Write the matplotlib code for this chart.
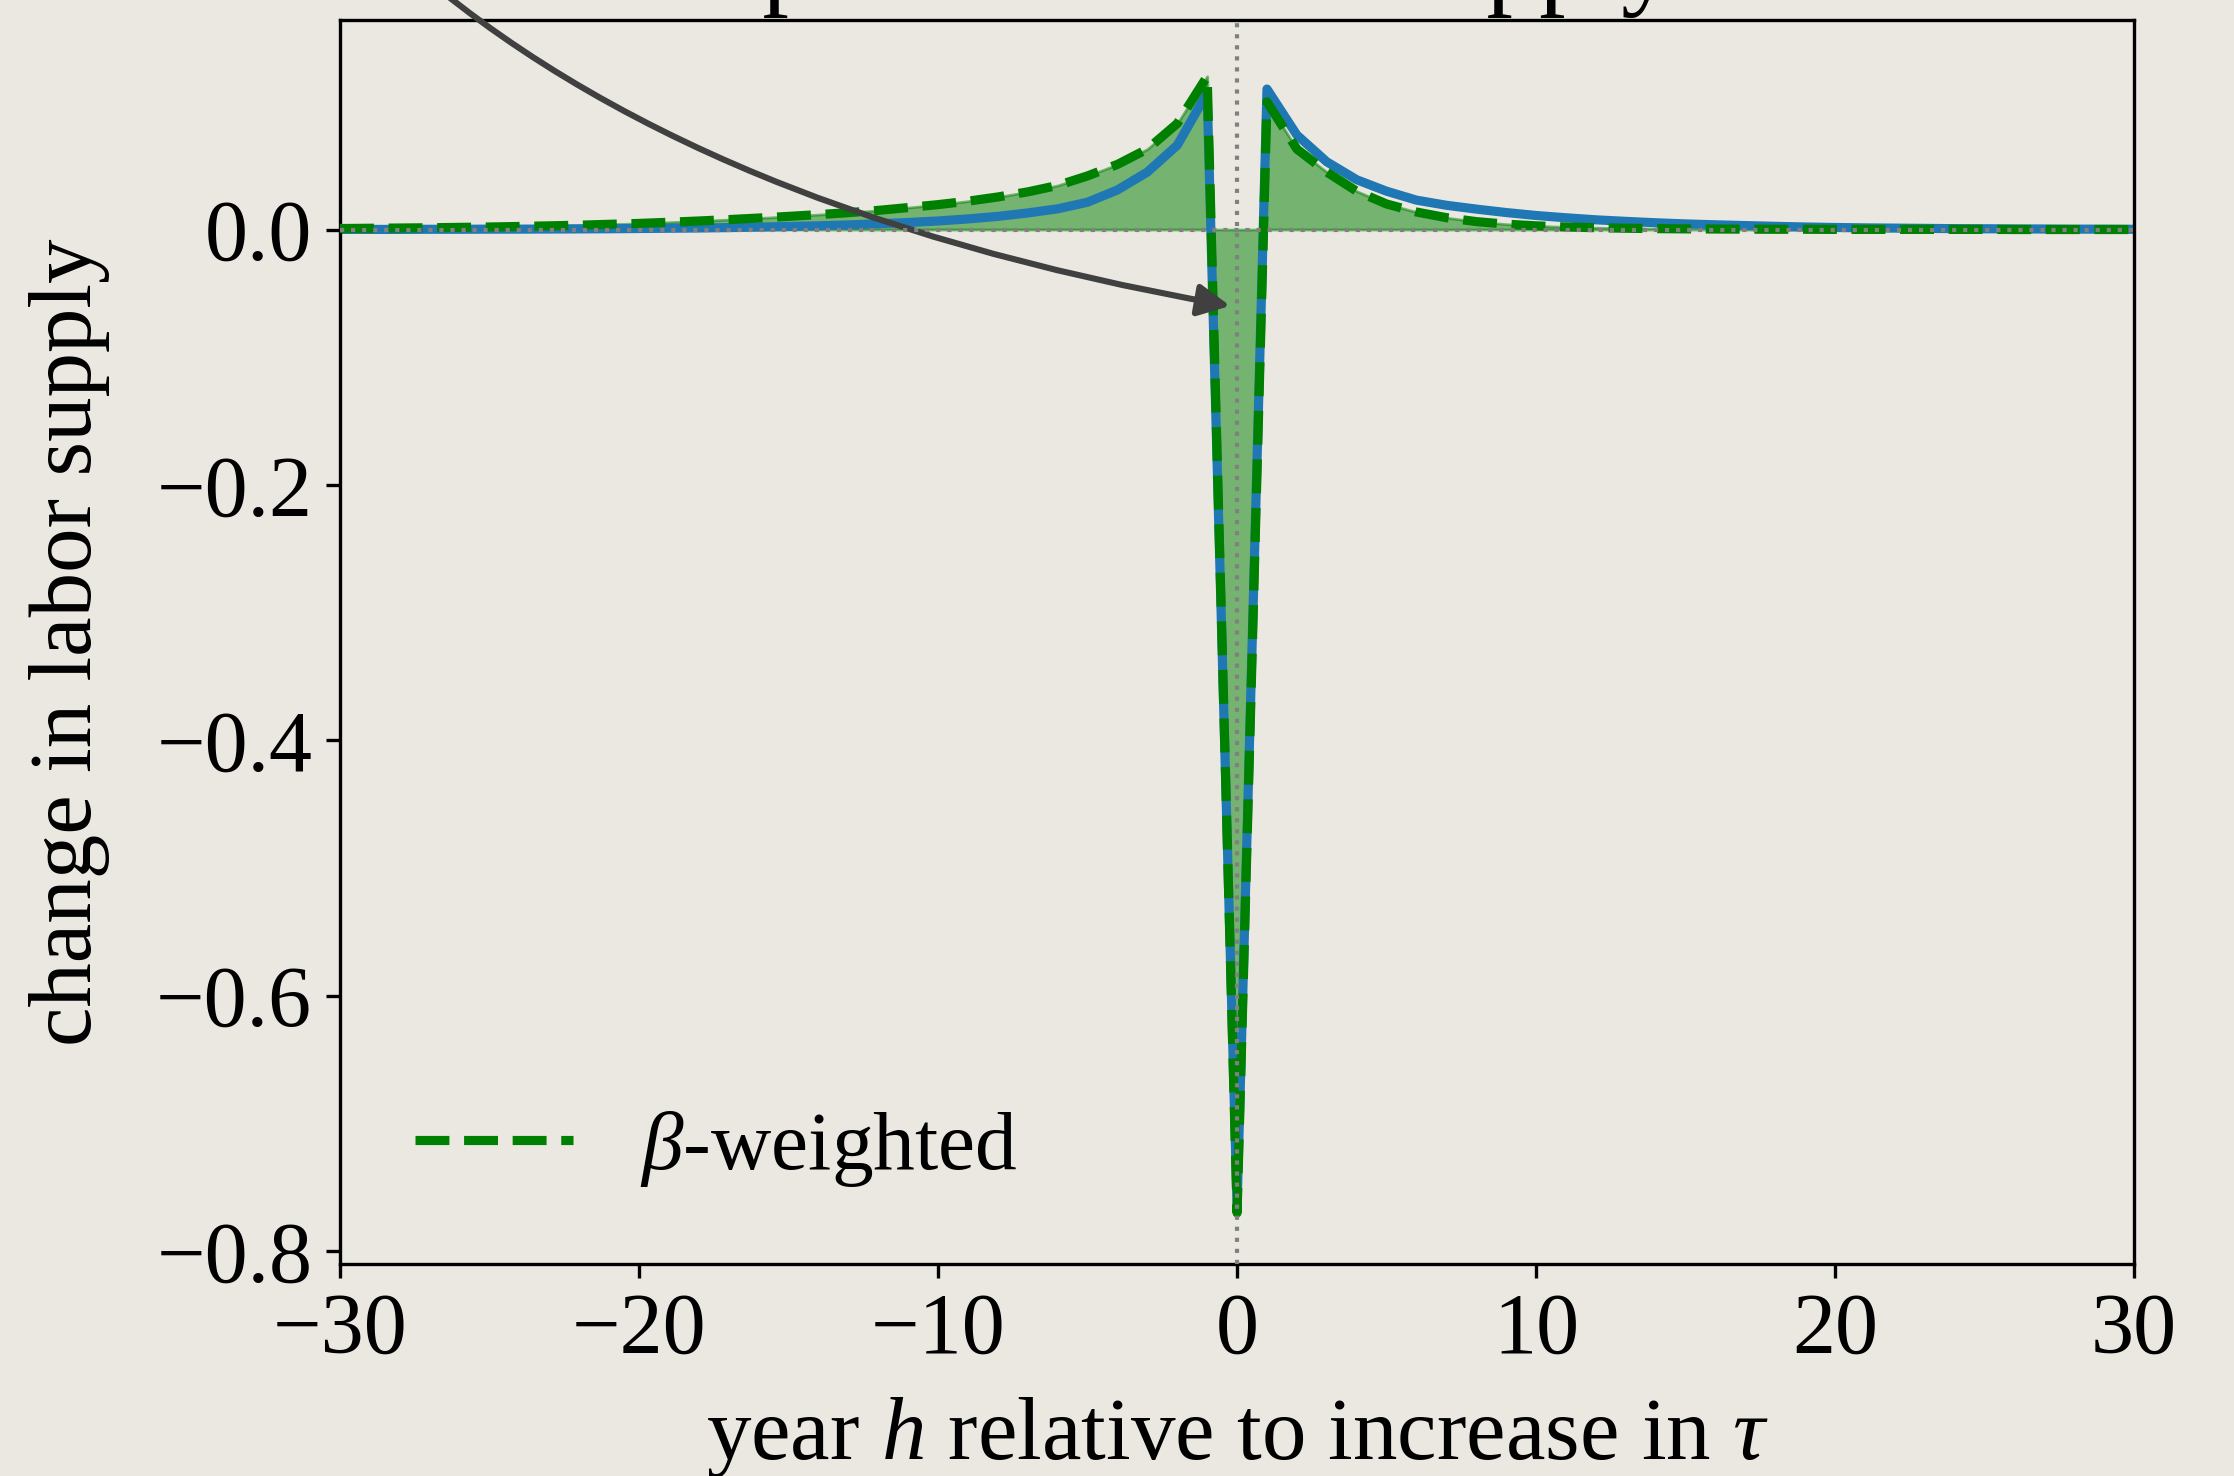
import matplotlib
matplotlib.use("Agg")
import matplotlib.pyplot as plt
import numpy as np

# --- data ---
years = np.arange(-30, 31)

# solid blue line (unweighted response)
baseline = [
    0.0001, 0.0001, 0.0001, 0.0002, 0.0002, 0.0003, 0.0003, 0.0004, 0.0005, 0.0006,
    0.0008, 0.0010, 0.0012, 0.0015, 0.0019, 0.0024, 0.0029, 0.0036, 0.0045, 0.0055,
    0.0067, 0.0083, 0.0103, 0.0130, 0.0162, 0.0214, 0.0310, 0.0450, 0.0660, 0.1070,
    -0.765,
    0.110, 0.074, 0.053, 0.039, 0.030, 0.023, 0.0190, 0.0160, 0.0133, 0.0110,
    0.0092, 0.0076, 0.0064, 0.0053, 0.0044, 0.0037, 0.0031, 0.0025, 0.0020, 0.0016,
    0.0013, 0.0011, 0.0009, 0.0007, 0.0006, 0.0005, 0.0004, 0.0003, 0.0003, 0.0002,
]

# dashed green line (beta-weighted response)
beta_weighted = [
    0.0008, 0.0010, 0.0012, 0.0014, 0.0017, 0.0020, 0.0024, 0.0029, 0.0034, 0.0041,
    0.0048, 0.0057, 0.0067, 0.0078, 0.0090, 0.0103, 0.0117, 0.0132, 0.0150, 0.0172,
    0.0195, 0.0222, 0.0255, 0.0295, 0.0345, 0.0420, 0.0510, 0.0630, 0.0830, 0.1200,
    -0.770,
    0.100, 0.063, 0.045, 0.030, 0.020, 0.0137, 0.0093, 0.0062, 0.0042, 0.0029,
    0.0020, 0.0014, 0.0010, 0.0007, 0.0005, 0.0004, 0.0003, 0.0002, 0.0002, 0.0001,
    0.0001, 0.0001, 0.0001, 0.0001, 0.0001, 0.0, 0.0, 0.0, 0.0, 0.0,
]

x_ticks = [-30, -20, -10, 0, 10, 20, 30]
y_ticks = [0.0, -0.2, -0.4, -0.6, -0.8]

title_text = "Response of labor supply"
legend_label = r"$\beta$-weighted"
x_label = r"year $h$ relative to increase in $\tau$"
y_label = "change in labor supply"

# --- style ---
BG = "#EBE8E2"
plt.rcParams["font.family"] = "serif"
plt.rcParams["font.serif"] = ["Liberation Serif", "DejaVu Serif"]
plt.rcParams["mathtext.fontset"] = "custom"
plt.rcParams["mathtext.rm"] = "Liberation Serif"
plt.rcParams["mathtext.it"] = "Liberation Serif:italic"
plt.rcParams["font.size"] = 31

fig = plt.figure(figsize=(11.17, 7.38), dpi=200, facecolor=BG)
ax = fig.add_axes([0.1522, 0.1436, 0.8031, 0.8428])
ax.set_facecolor("none")

# fill + lines
ax.fill_between(years, beta_weighted, 0, color="green", alpha=0.5, zorder=1)
ax.plot(years, baseline, color="tab:blue", lw=3.3, zorder=2)
ax.plot(years, beta_weighted, color="green", lw=3.3, ls="--", label=legend_label, zorder=3)
ax.axhline(0, color="gray", lw=1.5, ls=":", zorder=4)
ax.axvline(0, color="gray", lw=1.5, ls=":", zorder=4)

ax.set_xlim(-30, 30)
ax.set_ylim(-0.81, 0.164)
ax.set_xticks(x_ticks)
ax.set_yticks(y_ticks)
ax.tick_params(length=5, width=1.2, pad=5, labelsize=31)
for s in ax.spines.values():
    s.set_linewidth(1.2)

ax.set_xlabel(x_label, fontsize=32)
ax.xaxis.set_label_coords(0.5, -0.105)
ax.set_ylabel(y_label, fontsize=32)
ax.yaxis.set_label_coords(-0.128, 0.5)

ax.legend(loc="lower left", frameon=False, fontsize=30, handlelength=1.9)

# curved arrow coming in from the title area
ax.annotate("", xy=(-0.23, -0.0598), xytext=(-28.5, 0.225),
            annotation_clip=False,
            arrowprops=dict(arrowstyle="-|>", color="#404040", lw=2.2,
                            mutation_scale=24, shrinkA=0, shrinkB=0,
                            connectionstyle="angle3,angleA=-43,angleB=-10",
                            clip_on=False))

# title sits mostly above the canvas, only descenders show
fig.text(0.51, 1 + 5 / 1476, title_text, ha="center", va="baseline", fontsize=38)

fig.savefig("out.png", dpi=200, facecolor=BG)
